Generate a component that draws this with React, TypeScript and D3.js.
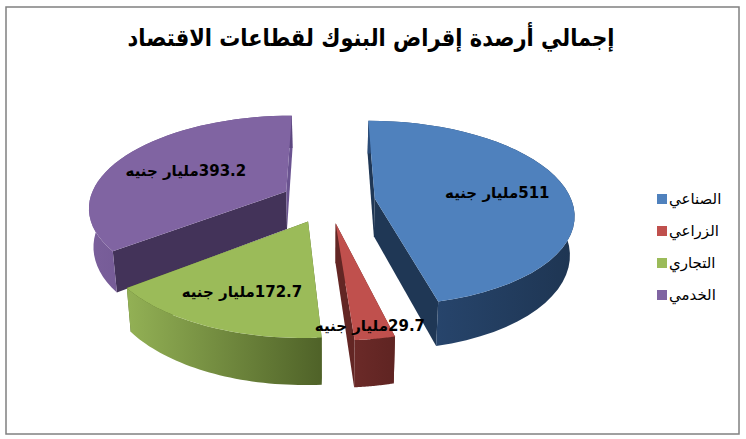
import React, { useEffect, useRef } from "react";
import * as d3 from "d3";

const title = "إجمالي أرصدة إقراض البنوك لقطاعات الاقتصاد";
const sectors = ["الصناعي", "الزراعي", "التجاري", "الخدمي"];
const values = [511, 29.7, 172.7, 393.2];
const valueLabels = ["511", "29.7", "172.7", "393.2"];
const unit = "مليار جنيه";
const topColors = ["#4f81bd", "#c0504d", "#9bbb59", "#8064a2"];
const wallColors = [
  ["#1f3755", "#1f3755"],
  ["#632624", "#632624"],
  ["#4f6228", "#4f6228"],
  ["#433359", "#6a5390"],
];
const rimColors = [
  ["#2b4c78", "#1e3552"],
  ["#6b2a28", "#5f2422"],
  ["#93b155", "#4f6228"],
  ["#7a5f9b", "#5d4880"],
];

const width = 746;
const height = 439;

// pie plane -> screen, with a bit of perspective toward the viewer
const cx = 328;
const cy = 201;
const rx = 197;
const ry = 90.7;
const persp = 0.158;
const explode = 0.24;
const depth = 38;
const labelRadius = [0.64, 0.89, 0.69, 0.61];

const project = (u: number, v: number, z = 0): [number, number] => {
  const k = 1 / (1 - persp * v);
  return [cx + rx * u * k * (1 - z * 0.0005), cy + (ry * v + z) * k];
};

const App: React.FC = () => {
  const svgRef = useRef<SVGSVGElement>(null);

  useEffect(() => {
    const svg = d3.select(svgRef.current);
    svg.selectAll("*").remove();
    svg.attr("width", width).attr("height", height);

    svg
      .append("rect")
      .attr("x", 6)
      .attr("y", 7)
      .attr("width", 733)
      .attr("height", 427)
      .attr("fill", "#fff")
      .attr("stroke", "#808080")
      .attr("stroke-width", 1.5);

    const defs = svg.append("defs");
    const pie = d3
      .pie<number>()
      .sort(null)
      .value((d) => d);
    const arcs = pie(values);
    const line = d3.line();

    const drawOrder = [3, 0, 2, 1];
    drawOrder.forEach((i) => {
      const a = arcs[i];
      const mid = (a.startAngle + a.endAngle) / 2;
      const c0 = explode * Math.sin(mid);
      const c1 = -explode * Math.cos(mid);
      const steps = d3.range(0, 41).map((j) => a.startAngle + ((a.endAngle - a.startAngle) * j) / 40);
      const rim = (z: number) => steps.map((t) => project(c0 + Math.sin(t), c1 - Math.cos(t), z));
      const apex = (z: number) => project(c0, c1, z);
      const rimTop = rim(0);
      const rimBottom = rim(depth);

      const grad = defs
        .append("linearGradient")
        .attr("id", `rim${i}`)
        .attr("gradientUnits", "userSpaceOnUse")
        .attr("x1", d3.min(rimTop, (p) => p[0]) as number)
        .attr("x2", d3.max(rimTop, (p) => p[0]) as number)
        .attr("y1", 0)
        .attr("y2", 0);
      grad.append("stop").attr("offset", 0).attr("stop-color", rimColors[i][0]);
      grad.append("stop").attr("offset", 1).attr("stop-color", rimColors[i][1]);

      const g = svg.append("g");
      // cut walls
      [rimTop[0], rimTop[rimTop.length - 1]].forEach((p, n) => {
        const q = n === 0 ? rimBottom[0] : rimBottom[rimBottom.length - 1];
        g.append("path")
          .attr("d", line([apex(0), p, q, apex(depth)]) + "Z")
          .attr("fill", wallColors[i][n]);
      });
      // outer wall
      g.append("path")
        .attr("d", line([...rimTop, ...rimBottom.slice().reverse()]) + "Z")
        .attr("fill", `url(#rim${i})`);
      // top face
      g.append("path")
        .attr("d", line([apex(0), ...rimTop]) + "Z")
        .attr("fill", topColors[i]);
    });

    // data labels sit on top of every slice
    arcs.forEach((a, i) => {
      const mid = (a.startAngle + a.endAngle) / 2;
      const f = labelRadius[i];
      const [x, y] = project(
        (explode + f) * Math.sin(mid),
        -(explode + f) * Math.cos(mid)
      );
      svg
        .append("text")
        .attr("x", x)
        .attr("y", y)
        .attr("dy", "0.45em")
        .attr("text-anchor", "middle")
        .attr("direction", "rtl")
        .attr("font-family", "'DejaVu Sans'")
        .attr("font-weight", "bold")
        .attr("font-size", 15)
        .attr("fill", "#000")
        .text(valueLabels[i] + unit);
    });

    svg
      .append("text")
      .attr("x", 371)
      .attr("y", 38)
      .attr("dy", "0.35em")
      .attr("text-anchor", "middle")
      .attr("direction", "rtl")
      .attr("font-family", "'DejaVu Sans'")
      .attr("font-weight", "bold")
      .attr("font-size", 24)
      .attr("textLength", 487)
      .attr("lengthAdjust", "spacingAndGlyphs")
      .attr("fill", "#000")
      .text(title);

    const legendY = d3
      .scalePoint<string>()
      .domain(sectors)
      .range([199, 295]);
    sectors.forEach((s, i) => {
      const y = legendY(s) as number;
      svg
        .append("rect")
        .attr("x", 657)
        .attr("y", y - 5)
        .attr("width", 10)
        .attr("height", 10)
        .attr("fill", topColors[i]);
      svg
        .append("text")
        .attr("x", 669)
        .attr("y", y)
        .attr("dy", "0.3em")
        .attr("text-anchor", "end")
        .attr("direction", "rtl")
        .attr("font-family", "'DejaVu Sans'")
        .attr("font-size", 15)
        .attr("fill", "#000")
        .text(s);
    });
  }, []);

  return <svg ref={svgRef} style={{ position: "absolute", left: 0, top: 0 }}></svg>;
};

export default App;
